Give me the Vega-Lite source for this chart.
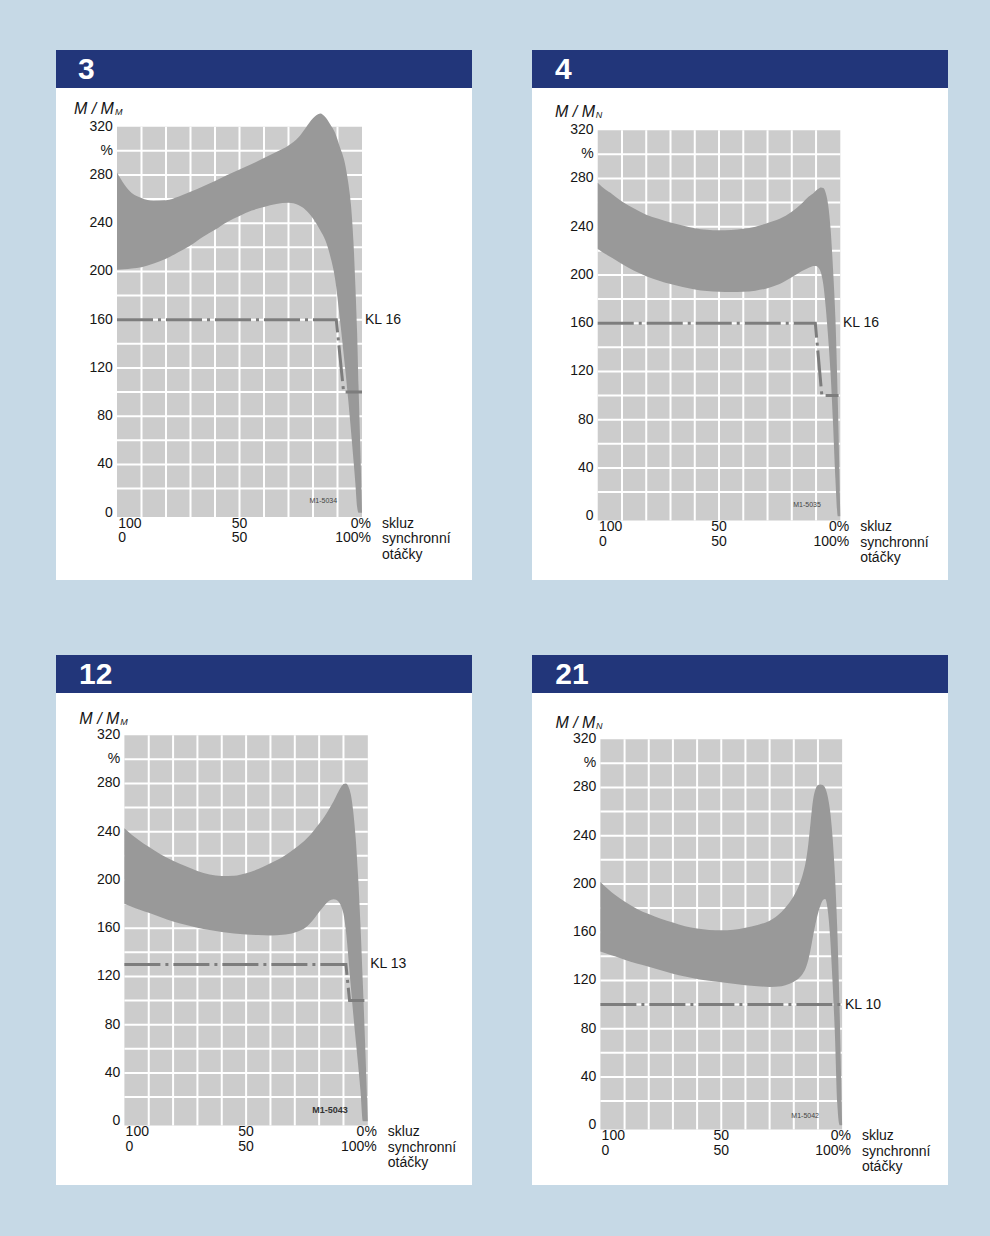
{
"$schema": "https://vega.github.io/schema/vega-lite/v6.json",
"background": "#c6d9e6",
"padding": {"left": 56, "top": 50, "right": 42, "bottom": 51},
"config": {"view": {"stroke": null}},
"datasets": {
"gridx": [{"g":10},{"g":20},{"g":30},{"g":40},{"g":50},{"g":60},{"g":70},{"g":80},{"g":90}],
"gridy": [{"g":20},{"g":40},{"g":60},{"g":80},{"g":100},{"g":120},{"g":140},{"g":160},{"g":180},{"g":200},{"g":220},{"g":240},{"g":260},{"g":280},{"g":300}],
"ylabs": [{"v":320,"t":"320"},{"v":300,"t":"%"},{"v":280,"t":"280"},{"v":240,"t":"240"},{"v":200,"t":"200"},{"v":160,"t":"160"},{"v":120,"t":"120"},{"v":80,"t":"80"},{"v":40,"t":"40"},{"v":0,"t":"0"}],
"band1": [{"x":0,"hi":282,"lo":201.5},{"x":3,"hi":272,"lo":201.8},{"x":6,"hi":265,"lo":202.5},{"x":10,"hi":261,"lo":203.5},{"x":15,"hi":258.5,"lo":206.5},{"x":20,"hi":259,"lo":210.5},{"x":25,"hi":262,"lo":216},{"x":30,"hi":266,"lo":221.5},{"x":35,"hi":270.5,"lo":228.5},{"x":40,"hi":275,"lo":234.5},{"x":45,"hi":280,"lo":241},{"x":50,"hi":284.5,"lo":246},{"x":55,"hi":289,"lo":250.5},{"x":60,"hi":294,"lo":253.5},{"x":65,"hi":299,"lo":256},{"x":70,"hi":304.5,"lo":257},{"x":74,"hi":311,"lo":255},{"x":77,"hi":319,"lo":251},{"x":80,"hi":327,"lo":244},{"x":83,"hi":331,"lo":234},{"x":85,"hi":328,"lo":226},{"x":87,"hi":322,"lo":213},{"x":89,"hi":315,"lo":194},{"x":91,"hi":303,"lo":160},{"x":93,"hi":290,"lo":122},{"x":94.5,"hi":272,"lo":91},{"x":95.5,"hi":255,"lo":68},{"x":96.5,"hi":225,"lo":44},{"x":97.3,"hi":188,"lo":24},{"x":98,"hi":150,"lo":5},{"x":98.6,"hi":104,"lo":0},{"x":99.3,"hi":55,"lo":0},{"x":100,"hi":0,"lo":0}],
"band2": [{"x":0,"hi":276.5,"lo":221.8},{"x":3,"hi":271,"lo":217.5},{"x":6,"hi":267,"lo":214},{"x":10,"hi":261,"lo":209},{"x":15,"hi":255,"lo":203.5},{"x":20,"hi":250,"lo":199},{"x":25,"hi":246.5,"lo":195.5},{"x":30,"hi":243.5,"lo":192.5},{"x":35,"hi":241,"lo":190},{"x":40,"hi":238.8,"lo":188},{"x":45,"hi":237.5,"lo":186.7},{"x":50,"hi":237,"lo":186},{"x":55,"hi":237.3,"lo":185.8},{"x":60,"hi":238.3,"lo":186},{"x":65,"hi":240,"lo":187},{"x":70,"hi":243,"lo":189},{"x":75,"hi":246.5,"lo":192.5},{"x":80,"hi":252.5,"lo":198},{"x":84,"hi":259,"lo":203},{"x":87,"hi":265,"lo":206},{"x":89,"hi":268,"lo":207.5},{"x":90,"hi":270,"lo":207.5},{"x":91,"hi":271.5,"lo":206},{"x":92,"hi":272.5,"lo":202},{"x":93,"hi":272,"lo":192},{"x":94,"hi":268,"lo":173},{"x":95,"hi":258,"lo":148},{"x":96,"hi":238,"lo":118},{"x":97,"hi":205,"lo":77},{"x":98,"hi":163,"lo":30},{"x":99,"hi":93,"lo":0},{"x":100,"hi":0,"lo":0}],
"band3": [{"x":0,"hi":242.8,"lo":180},{"x":3,"hi":237.5,"lo":177.8},{"x":6,"hi":233,"lo":175.5},{"x":10,"hi":227.5,"lo":172.8},{"x":15,"hi":221,"lo":169},{"x":20,"hi":216,"lo":165.5},{"x":25,"hi":211.5,"lo":162.8},{"x":30,"hi":207.5,"lo":160.4},{"x":35,"hi":204.5,"lo":158.5},{"x":40,"hi":203.3,"lo":156.8},{"x":45,"hi":203.5,"lo":155.6},{"x":50,"hi":205.5,"lo":154.8},{"x":55,"hi":209,"lo":154.3},{"x":60,"hi":213.8,"lo":154},{"x":65,"hi":219,"lo":154.5},{"x":70,"hi":226,"lo":156.5},{"x":75,"hi":234.5,"lo":161.5},{"x":78,"hi":241.5,"lo":168},{"x":80,"hi":246.5,"lo":173.5},{"x":82,"hi":252,"lo":178.5},{"x":84,"hi":258.5,"lo":182.5},{"x":86,"hi":265.5,"lo":184},{"x":88,"hi":273.5,"lo":182},{"x":89,"hi":277,"lo":178.5},{"x":90,"hi":279.5,"lo":172},{"x":91,"hi":280,"lo":158},{"x":92,"hi":277.5,"lo":136},{"x":93,"hi":271,"lo":112},{"x":94,"hi":257,"lo":89},{"x":95,"hi":235,"lo":68},{"x":96,"hi":203,"lo":47},{"x":97,"hi":162,"lo":25},{"x":98,"hi":112,"lo":0},{"x":99,"hi":58,"lo":0},{"x":100,"hi":0,"lo":0}],
"band4": [{"x":0,"hi":201.7,"lo":144},{"x":3,"hi":196,"lo":142},{"x":6,"hi":191,"lo":140},{"x":10,"hi":185.5,"lo":137.2},{"x":15,"hi":179.5,"lo":134},{"x":20,"hi":175,"lo":131.4},{"x":25,"hi":171.2,"lo":128.5},{"x":30,"hi":168,"lo":125.6},{"x":35,"hi":165,"lo":123.2},{"x":40,"hi":163,"lo":121.2},{"x":45,"hi":161.8,"lo":119.8},{"x":50,"hi":161.5,"lo":118.5},{"x":55,"hi":162,"lo":117.2},{"x":60,"hi":163.7,"lo":116},{"x":65,"hi":166,"lo":115.2},{"x":70,"hi":169.5,"lo":114.6},{"x":75,"hi":177,"lo":115.2},{"x":78,"hi":184,"lo":117},{"x":80,"hi":190,"lo":119},{"x":82,"hi":198,"lo":121.5},{"x":84,"hi":210,"lo":126.5},{"x":85,"hi":219,"lo":130.5},{"x":86,"hi":233,"lo":137},{"x":87,"hi":252,"lo":146},{"x":88,"hi":270,"lo":157},{"x":89,"hi":278.5,"lo":167},{"x":90,"hi":282,"lo":175.5},{"x":91,"hi":282.5,"lo":182},{"x":92,"hi":282,"lo":186.5},{"x":93,"hi":279.5,"lo":187.5},{"x":94,"hi":273,"lo":179},{"x":95,"hi":261,"lo":157},{"x":96,"hi":240,"lo":120},{"x":97,"hi":208,"lo":76},{"x":98,"hi":162,"lo":18},{"x":99,"hi":92,"lo":0},{"x":100,"hi":0,"lo":0}],
"kl1": [{"x":0,"y":160},{"x":89.5,"y":160},{"x":92.5,"y":100},{"x":100,"y":100}],
"kl2": [{"x":0,"y":160},{"x":89.7,"y":160},{"x":92.4,"y":100},{"x":99.3,"y":100}],
"kl3": [{"x":0,"y":130},{"x":91,"y":130},{"x":92.5,"y":100},{"x":98.6,"y":100}],
"kl4": [{"x":0,"y":100},{"x":100,"y":100}]
},
"spacing": 75,
"vconcat": [
{"spacing": 60, "hconcat": [
{"width": 416, "height": 530, "view": {"fill": "white", "stroke": null}, "layer": [
{"data": {"values": [{}]}, "mark": {"type": "rect", "color": "#22367a"}, "encoding": {"x": {"datum": -24.9, "type": "quantitative", "scale": {"domain": [-24.9, 144.9], "nice": false, "zero": false}, "axis": null}, "x2": {"datum": 144.9}, "y": {"datum": 352.1, "type": "quantitative", "scale": {"domain": [-55.8, 383.6], "nice": false, "zero": false}, "axis": null}, "y2": {"datum": 383.6}}},
{"data": {"values": [{"t": "3"}]}, "mark": {"type": "text", "align": "left", "baseline": "middle", "font": "Liberation Sans", "fontSize": 30, "fontWeight": "bold", "color": "#ffffff"}, "encoding": {"x": {"datum": -15.9, "type": "quantitative", "axis": null}, "y": {"datum": 367.0, "type": "quantitative", "axis": null}, "text": {"field": "t"}}},
{"data": {"values": [{}]}, "mark": {"type": "rect", "color": "#cccccc"}, "encoding": {"x": {"datum": 0, "type": "quantitative", "axis": null}, "x2": {"datum": 100}, "y": {"datum": -3.5, "type": "quantitative", "axis": null}, "y2": {"datum": 320}}},
{"data": {"name": "gridx"}, "mark": {"type": "rule", "color": "#ffffff", "strokeWidth": 2}, "encoding": {"x": {"field": "g", "type": "quantitative", "axis": null}, "y": {"datum": -3.5, "type": "quantitative", "axis": null}, "y2": {"datum": 320}}},
{"data": {"name": "gridy"}, "mark": {"type": "rule", "color": "#ffffff", "strokeWidth": 2}, "encoding": {"y": {"field": "g", "type": "quantitative", "axis": null}, "x": {"datum": 0, "type": "quantitative", "axis": null}, "x2": {"datum": 100}}},
{"data": {"name": "band1"}, "mark": {"type": "area", "color": "#999999", "opacity": 1, "interpolate": "monotone"}, "encoding": {"x": {"field": "x", "type": "quantitative", "axis": null}, "y": {"field": "hi", "type": "quantitative", "axis": null}, "y2": {"field": "lo"}}},
{"data": {"name": "kl1"}, "mark": {"type": "line", "color": "#7d7d7d", "strokeWidth": 3, "strokeDash": [36, 5, 3, 5]}, "encoding": {"x": {"field": "x", "type": "quantitative", "axis": null}, "y": {"field": "y", "type": "quantitative", "axis": null}}},
{"data": {"name": "ylabs"}, "mark": {"type": "text", "align": "right", "baseline": "middle", "font": "Liberation Sans", "fontSize": 14, "color": "#151515"}, "encoding": {"x": {"datum": -1.7, "type": "quantitative", "axis": null}, "y": {"field": "v", "type": "quantitative", "axis": null}, "text": {"field": "t"}}},
{"data": {"values": [{"t": "100\n0"}]}, "mark": {"type": "text", "align": "left", "baseline": "top", "lineBreak": "\n", "lineHeight": 14.5, "font": "Liberation Sans", "fontSize": 14, "color": "#151515"}, "encoding": {"x": {"datum": 0.5, "type": "quantitative", "axis": null}, "y": {"datum": -3.2, "type": "quantitative", "axis": null}, "text": {"field": "t"}}},
{"data": {"values": [{"t": "50\n50"}]}, "mark": {"type": "text", "align": "center", "baseline": "top", "lineBreak": "\n", "lineHeight": 14.5, "font": "Liberation Sans", "fontSize": 14, "color": "#151515"}, "encoding": {"x": {"datum": 50, "type": "quantitative", "axis": null}, "y": {"datum": -3.2, "type": "quantitative", "axis": null}, "text": {"field": "t"}}},
{"data": {"values": [{"t": "0%\n100%"}]}, "mark": {"type": "text", "align": "right", "baseline": "top", "lineBreak": "\n", "lineHeight": 14.5, "font": "Liberation Sans", "fontSize": 14, "color": "#151515"}, "encoding": {"x": {"datum": 103.7, "type": "quantitative", "axis": null}, "y": {"datum": -3.2, "type": "quantitative", "axis": null}, "text": {"field": "t"}}},
{"data": {"values": [{"t": "skluz\nsynchronní\notáčky"}]}, "mark": {"type": "text", "align": "left", "baseline": "top", "lineBreak": "\n", "lineHeight": 15.5, "font": "Liberation Sans", "fontSize": 14, "color": "#151515"}, "encoding": {"x": {"datum": 108.2, "type": "quantitative", "axis": null}, "y": {"datum": -3.2, "type": "quantitative", "axis": null}, "text": {"field": "t"}}},
{"data": {"values": [{"t": "KL 16"}]}, "mark": {"type": "text", "align": "left", "baseline": "middle", "font": "Liberation Sans", "fontSize": 14, "color": "#151515"}, "encoding": {"x": {"datum": 101.2, "type": "quantitative", "axis": null}, "y": {"datum": 160, "type": "quantitative", "axis": null}, "text": {"field": "t"}}},
{"data": {"values": [{"t": "M1-5034"}]}, "mark": {"type": "text", "align": "center", "baseline": "middle", "font": "Liberation Sans", "fontSize": 7, "color": "#444444"}, "encoding": {"x": {"datum": 84.2, "type": "quantitative", "axis": null}, "y": {"datum": 9.7, "type": "quantitative", "axis": null}, "text": {"field": "t"}}},
{"data": {"values": [{"t": "M / M"}]}, "mark": {"type": "text", "align": "left", "baseline": "middle", "font": "Liberation Sans", "fontSize": 16, "fontStyle": "italic", "color": "#151515"}, "encoding": {"x": {"datum": -17.6, "type": "quantitative", "axis": null}, "y": {"datum": 335, "type": "quantitative", "axis": null}, "text": {"field": "t"}}},
{"data": {"values": [{"t": "M"}]}, "mark": {"type": "text", "align": "left", "baseline": "middle", "font": "Liberation Sans", "fontSize": 9, "fontStyle": "italic", "color": "#151515"}, "encoding": {"x": {"datum": -0.8, "type": "quantitative", "axis": null}, "y": {"datum": 332.5, "type": "quantitative", "axis": null}, "text": {"field": "t"}}}
]},
{"width": 416, "height": 530, "view": {"fill": "white", "stroke": null}, "layer": [
{"data": {"values": [{}]}, "mark": {"type": "rect", "color": "#22367a"}, "encoding": {"x": {"datum": -27.1, "type": "quantitative", "scale": {"domain": [-27.1, 144.4], "nice": false, "zero": false}, "axis": null}, "x2": {"datum": 144.4}, "y": {"datum": 355.0, "type": "quantitative", "scale": {"domain": [-52.9, 386.5], "nice": false, "zero": false}, "axis": null}, "y2": {"datum": 386.5}}},
{"data": {"values": [{"t": "4"}]}, "mark": {"type": "text", "align": "left", "baseline": "middle", "font": "Liberation Sans", "fontSize": 30, "fontWeight": "bold", "color": "#ffffff"}, "encoding": {"x": {"datum": -17.6, "type": "quantitative", "axis": null}, "y": {"datum": 369.9, "type": "quantitative", "axis": null}, "text": {"field": "t"}}},
{"data": {"values": [{}]}, "mark": {"type": "rect", "color": "#cccccc"}, "encoding": {"x": {"datum": 0, "type": "quantitative", "axis": null}, "x2": {"datum": 100}, "y": {"datum": -3.5, "type": "quantitative", "axis": null}, "y2": {"datum": 320}}},
{"data": {"name": "gridx"}, "mark": {"type": "rule", "color": "#ffffff", "strokeWidth": 2}, "encoding": {"x": {"field": "g", "type": "quantitative", "axis": null}, "y": {"datum": -3.5, "type": "quantitative", "axis": null}, "y2": {"datum": 320}}},
{"data": {"name": "gridy"}, "mark": {"type": "rule", "color": "#ffffff", "strokeWidth": 2}, "encoding": {"y": {"field": "g", "type": "quantitative", "axis": null}, "x": {"datum": 0, "type": "quantitative", "axis": null}, "x2": {"datum": 100}}},
{"data": {"name": "band2"}, "mark": {"type": "area", "color": "#999999", "opacity": 1, "interpolate": "monotone"}, "encoding": {"x": {"field": "x", "type": "quantitative", "axis": null}, "y": {"field": "hi", "type": "quantitative", "axis": null}, "y2": {"field": "lo"}}},
{"data": {"name": "kl2"}, "mark": {"type": "line", "color": "#7d7d7d", "strokeWidth": 3, "strokeDash": [36, 5, 3, 5]}, "encoding": {"x": {"field": "x", "type": "quantitative", "axis": null}, "y": {"field": "y", "type": "quantitative", "axis": null}}},
{"data": {"name": "ylabs"}, "mark": {"type": "text", "align": "right", "baseline": "middle", "font": "Liberation Sans", "fontSize": 14, "color": "#151515"}, "encoding": {"x": {"datum": -1.7, "type": "quantitative", "axis": null}, "y": {"field": "v", "type": "quantitative", "axis": null}, "text": {"field": "t"}}},
{"data": {"values": [{"t": "100\n0"}]}, "mark": {"type": "text", "align": "left", "baseline": "top", "lineBreak": "\n", "lineHeight": 14.5, "font": "Liberation Sans", "fontSize": 14, "color": "#151515"}, "encoding": {"x": {"datum": 0.5, "type": "quantitative", "axis": null}, "y": {"datum": -3.2, "type": "quantitative", "axis": null}, "text": {"field": "t"}}},
{"data": {"values": [{"t": "50\n50"}]}, "mark": {"type": "text", "align": "center", "baseline": "top", "lineBreak": "\n", "lineHeight": 14.5, "font": "Liberation Sans", "fontSize": 14, "color": "#151515"}, "encoding": {"x": {"datum": 50, "type": "quantitative", "axis": null}, "y": {"datum": -3.2, "type": "quantitative", "axis": null}, "text": {"field": "t"}}},
{"data": {"values": [{"t": "0%\n100%"}]}, "mark": {"type": "text", "align": "right", "baseline": "top", "lineBreak": "\n", "lineHeight": 14.5, "font": "Liberation Sans", "fontSize": 14, "color": "#151515"}, "encoding": {"x": {"datum": 103.7, "type": "quantitative", "axis": null}, "y": {"datum": -3.2, "type": "quantitative", "axis": null}, "text": {"field": "t"}}},
{"data": {"values": [{"t": "skluz\nsynchronní\notáčky"}]}, "mark": {"type": "text", "align": "left", "baseline": "top", "lineBreak": "\n", "lineHeight": 15.5, "font": "Liberation Sans", "fontSize": 14, "color": "#151515"}, "encoding": {"x": {"datum": 108.2, "type": "quantitative", "axis": null}, "y": {"datum": -3.2, "type": "quantitative", "axis": null}, "text": {"field": "t"}}},
{"data": {"values": [{"t": "KL 16"}]}, "mark": {"type": "text", "align": "left", "baseline": "middle", "font": "Liberation Sans", "fontSize": 14, "color": "#151515"}, "encoding": {"x": {"datum": 101.1, "type": "quantitative", "axis": null}, "y": {"datum": 160, "type": "quantitative", "axis": null}, "text": {"field": "t"}}},
{"data": {"values": [{"t": "M1-5035"}]}, "mark": {"type": "text", "align": "center", "baseline": "middle", "font": "Liberation Sans", "fontSize": 7, "color": "#444444"}, "encoding": {"x": {"datum": 86.3, "type": "quantitative", "axis": null}, "y": {"datum": 9.3, "type": "quantitative", "axis": null}, "text": {"field": "t"}}},
{"data": {"values": [{"t": "M / M"}]}, "mark": {"type": "text", "align": "left", "baseline": "middle", "font": "Liberation Sans", "fontSize": 16, "fontStyle": "italic", "color": "#151515"}, "encoding": {"x": {"datum": -17.6, "type": "quantitative", "axis": null}, "y": {"datum": 335, "type": "quantitative", "axis": null}, "text": {"field": "t"}}},
{"data": {"values": [{"t": "N"}]}, "mark": {"type": "text", "align": "left", "baseline": "middle", "font": "Liberation Sans", "fontSize": 9, "fontStyle": "italic", "color": "#151515"}, "encoding": {"x": {"datum": -0.8, "type": "quantitative", "axis": null}, "y": {"datum": 332.5, "type": "quantitative", "axis": null}, "text": {"field": "t"}}}
]}
]},
{"spacing": 60, "hconcat": [
{"width": 416, "height": 530, "view": {"fill": "white", "stroke": null}, "layer": [
{"data": {"values": [{}]}, "mark": {"type": "rect", "color": "#22367a"}, "encoding": {"x": {"datum": -28.1, "type": "quantitative", "scale": {"domain": [-28.1, 142.8], "nice": false, "zero": false}, "axis": null}, "x2": {"datum": 142.8}, "y": {"datum": 355.0, "type": "quantitative", "scale": {"domain": [-52.9, 386.5], "nice": false, "zero": false}, "axis": null}, "y2": {"datum": 386.5}}},
{"data": {"values": [{"t": "12"}]}, "mark": {"type": "text", "align": "left", "baseline": "middle", "font": "Liberation Sans", "fontSize": 30, "fontWeight": "bold", "color": "#ffffff"}, "encoding": {"x": {"datum": -18.6, "type": "quantitative", "axis": null}, "y": {"datum": 369.9, "type": "quantitative", "axis": null}, "text": {"field": "t"}}},
{"data": {"values": [{}]}, "mark": {"type": "rect", "color": "#cccccc"}, "encoding": {"x": {"datum": 0, "type": "quantitative", "axis": null}, "x2": {"datum": 100}, "y": {"datum": -3.5, "type": "quantitative", "axis": null}, "y2": {"datum": 320}}},
{"data": {"name": "gridx"}, "mark": {"type": "rule", "color": "#ffffff", "strokeWidth": 2}, "encoding": {"x": {"field": "g", "type": "quantitative", "axis": null}, "y": {"datum": -3.5, "type": "quantitative", "axis": null}, "y2": {"datum": 320}}},
{"data": {"name": "gridy"}, "mark": {"type": "rule", "color": "#ffffff", "strokeWidth": 2}, "encoding": {"y": {"field": "g", "type": "quantitative", "axis": null}, "x": {"datum": 0, "type": "quantitative", "axis": null}, "x2": {"datum": 100}}},
{"data": {"name": "band3"}, "mark": {"type": "area", "color": "#999999", "opacity": 1, "interpolate": "monotone"}, "encoding": {"x": {"field": "x", "type": "quantitative", "axis": null}, "y": {"field": "hi", "type": "quantitative", "axis": null}, "y2": {"field": "lo"}}},
{"data": {"name": "kl3"}, "mark": {"type": "line", "color": "#7d7d7d", "strokeWidth": 3, "strokeDash": [36, 5, 3, 5]}, "encoding": {"x": {"field": "x", "type": "quantitative", "axis": null}, "y": {"field": "y", "type": "quantitative", "axis": null}}},
{"data": {"name": "ylabs"}, "mark": {"type": "text", "align": "right", "baseline": "middle", "font": "Liberation Sans", "fontSize": 14, "color": "#151515"}, "encoding": {"x": {"datum": -1.7, "type": "quantitative", "axis": null}, "y": {"field": "v", "type": "quantitative", "axis": null}, "text": {"field": "t"}}},
{"data": {"values": [{"t": "100\n0"}]}, "mark": {"type": "text", "align": "left", "baseline": "top", "lineBreak": "\n", "lineHeight": 14.5, "font": "Liberation Sans", "fontSize": 14, "color": "#151515"}, "encoding": {"x": {"datum": 0.5, "type": "quantitative", "axis": null}, "y": {"datum": -3.2, "type": "quantitative", "axis": null}, "text": {"field": "t"}}},
{"data": {"values": [{"t": "50\n50"}]}, "mark": {"type": "text", "align": "center", "baseline": "top", "lineBreak": "\n", "lineHeight": 14.5, "font": "Liberation Sans", "fontSize": 14, "color": "#151515"}, "encoding": {"x": {"datum": 50, "type": "quantitative", "axis": null}, "y": {"datum": -3.2, "type": "quantitative", "axis": null}, "text": {"field": "t"}}},
{"data": {"values": [{"t": "0%\n100%"}]}, "mark": {"type": "text", "align": "right", "baseline": "top", "lineBreak": "\n", "lineHeight": 14.5, "font": "Liberation Sans", "fontSize": 14, "color": "#151515"}, "encoding": {"x": {"datum": 103.7, "type": "quantitative", "axis": null}, "y": {"datum": -3.2, "type": "quantitative", "axis": null}, "text": {"field": "t"}}},
{"data": {"values": [{"t": "skluz\nsynchronní\notáčky"}]}, "mark": {"type": "text", "align": "left", "baseline": "top", "lineBreak": "\n", "lineHeight": 15.5, "font": "Liberation Sans", "fontSize": 14, "color": "#151515"}, "encoding": {"x": {"datum": 108.2, "type": "quantitative", "axis": null}, "y": {"datum": -3.2, "type": "quantitative", "axis": null}, "text": {"field": "t"}}},
{"data": {"values": [{"t": "KL 13"}]}, "mark": {"type": "text", "align": "left", "baseline": "middle", "font": "Liberation Sans", "fontSize": 14, "color": "#151515"}, "encoding": {"x": {"datum": 101, "type": "quantitative", "axis": null}, "y": {"datum": 130, "type": "quantitative", "axis": null}, "text": {"field": "t"}}},
{"data": {"values": [{"t": "M1-5043"}]}, "mark": {"type": "text", "align": "center", "baseline": "middle", "font": "Liberation Sans", "fontSize": 9, "fontWeight": "bold", "color": "#333333"}, "encoding": {"x": {"datum": 84.5, "type": "quantitative", "axis": null}, "y": {"datum": 9, "type": "quantitative", "axis": null}, "text": {"field": "t"}}},
{"data": {"values": [{"t": "M / M"}]}, "mark": {"type": "text", "align": "left", "baseline": "middle", "font": "Liberation Sans", "fontSize": 16, "fontStyle": "italic", "color": "#151515"}, "encoding": {"x": {"datum": -18.5, "type": "quantitative", "axis": null}, "y": {"datum": 333.5, "type": "quantitative", "axis": null}, "text": {"field": "t"}}},
{"data": {"values": [{"t": "M"}]}, "mark": {"type": "text", "align": "left", "baseline": "middle", "font": "Liberation Sans", "fontSize": 9, "fontStyle": "italic", "color": "#151515"}, "encoding": {"x": {"datum": -1.7, "type": "quantitative", "axis": null}, "y": {"datum": 331, "type": "quantitative", "axis": null}, "text": {"field": "t"}}}
]},
{"width": 416, "height": 530, "view": {"fill": "white", "stroke": null}, "layer": [
{"data": {"values": [{}]}, "mark": {"type": "rect", "color": "#22367a"}, "encoding": {"x": {"datum": -28.3, "type": "quantitative", "scale": {"domain": [-28.3, 143.8], "nice": false, "zero": false}, "axis": null}, "x2": {"datum": 143.8}, "y": {"datum": 358.3, "type": "quantitative", "scale": {"domain": [-49.6, 389.8], "nice": false, "zero": false}, "axis": null}, "y2": {"datum": 389.8}}},
{"data": {"values": [{"t": "21"}]}, "mark": {"type": "text", "align": "left", "baseline": "middle", "font": "Liberation Sans", "fontSize": 30, "fontWeight": "bold", "color": "#ffffff"}, "encoding": {"x": {"datum": -18.7, "type": "quantitative", "axis": null}, "y": {"datum": 373.2, "type": "quantitative", "axis": null}, "text": {"field": "t"}}},
{"data": {"values": [{}]}, "mark": {"type": "rect", "color": "#cccccc"}, "encoding": {"x": {"datum": 0, "type": "quantitative", "axis": null}, "x2": {"datum": 100}, "y": {"datum": -3.5, "type": "quantitative", "axis": null}, "y2": {"datum": 320}}},
{"data": {"name": "gridx"}, "mark": {"type": "rule", "color": "#ffffff", "strokeWidth": 2}, "encoding": {"x": {"field": "g", "type": "quantitative", "axis": null}, "y": {"datum": -3.5, "type": "quantitative", "axis": null}, "y2": {"datum": 320}}},
{"data": {"name": "gridy"}, "mark": {"type": "rule", "color": "#ffffff", "strokeWidth": 2}, "encoding": {"y": {"field": "g", "type": "quantitative", "axis": null}, "x": {"datum": 0, "type": "quantitative", "axis": null}, "x2": {"datum": 100}}},
{"data": {"name": "band4"}, "mark": {"type": "area", "color": "#999999", "opacity": 1, "interpolate": "monotone"}, "encoding": {"x": {"field": "x", "type": "quantitative", "axis": null}, "y": {"field": "hi", "type": "quantitative", "axis": null}, "y2": {"field": "lo"}}},
{"data": {"name": "kl4"}, "mark": {"type": "line", "color": "#7d7d7d", "strokeWidth": 3, "strokeDash": [36, 5, 3, 5]}, "encoding": {"x": {"field": "x", "type": "quantitative", "axis": null}, "y": {"field": "y", "type": "quantitative", "axis": null}}},
{"data": {"name": "ylabs"}, "mark": {"type": "text", "align": "right", "baseline": "middle", "font": "Liberation Sans", "fontSize": 14, "color": "#151515"}, "encoding": {"x": {"datum": -1.7, "type": "quantitative", "axis": null}, "y": {"field": "v", "type": "quantitative", "axis": null}, "text": {"field": "t"}}},
{"data": {"values": [{"t": "100\n0"}]}, "mark": {"type": "text", "align": "left", "baseline": "top", "lineBreak": "\n", "lineHeight": 14.5, "font": "Liberation Sans", "fontSize": 14, "color": "#151515"}, "encoding": {"x": {"datum": 0.5, "type": "quantitative", "axis": null}, "y": {"datum": -3.2, "type": "quantitative", "axis": null}, "text": {"field": "t"}}},
{"data": {"values": [{"t": "50\n50"}]}, "mark": {"type": "text", "align": "center", "baseline": "top", "lineBreak": "\n", "lineHeight": 14.5, "font": "Liberation Sans", "fontSize": 14, "color": "#151515"}, "encoding": {"x": {"datum": 50, "type": "quantitative", "axis": null}, "y": {"datum": -3.2, "type": "quantitative", "axis": null}, "text": {"field": "t"}}},
{"data": {"values": [{"t": "0%\n100%"}]}, "mark": {"type": "text", "align": "right", "baseline": "top", "lineBreak": "\n", "lineHeight": 14.5, "font": "Liberation Sans", "fontSize": 14, "color": "#151515"}, "encoding": {"x": {"datum": 103.7, "type": "quantitative", "axis": null}, "y": {"datum": -3.2, "type": "quantitative", "axis": null}, "text": {"field": "t"}}},
{"data": {"values": [{"t": "skluz\nsynchronní\notáčky"}]}, "mark": {"type": "text", "align": "left", "baseline": "top", "lineBreak": "\n", "lineHeight": 15.5, "font": "Liberation Sans", "fontSize": 14, "color": "#151515"}, "encoding": {"x": {"datum": 108.2, "type": "quantitative", "axis": null}, "y": {"datum": -3.2, "type": "quantitative", "axis": null}, "text": {"field": "t"}}},
{"data": {"values": [{"t": "KL 10"}]}, "mark": {"type": "text", "align": "left", "baseline": "middle", "font": "Liberation Sans", "fontSize": 14, "color": "#151515"}, "encoding": {"x": {"datum": 101.2, "type": "quantitative", "axis": null}, "y": {"datum": 100, "type": "quantitative", "axis": null}, "text": {"field": "t"}}},
{"data": {"values": [{"t": "M1-5042"}]}, "mark": {"type": "text", "align": "center", "baseline": "middle", "font": "Liberation Sans", "fontSize": 7, "color": "#444444"}, "encoding": {"x": {"datum": 84.7, "type": "quantitative", "axis": null}, "y": {"datum": 8, "type": "quantitative", "axis": null}, "text": {"field": "t"}}},
{"data": {"values": [{"t": "M / M"}]}, "mark": {"type": "text", "align": "left", "baseline": "middle", "font": "Liberation Sans", "fontSize": 16, "fontStyle": "italic", "color": "#151515"}, "encoding": {"x": {"datum": -18.6, "type": "quantitative", "axis": null}, "y": {"datum": 333.5, "type": "quantitative", "axis": null}, "text": {"field": "t"}}},
{"data": {"values": [{"t": "N"}]}, "mark": {"type": "text", "align": "left", "baseline": "middle", "font": "Liberation Sans", "fontSize": 9, "fontStyle": "italic", "color": "#151515"}, "encoding": {"x": {"datum": -1.8, "type": "quantitative", "axis": null}, "y": {"datum": 331, "type": "quantitative", "axis": null}, "text": {"field": "t"}}}
]}
]}
]
}
